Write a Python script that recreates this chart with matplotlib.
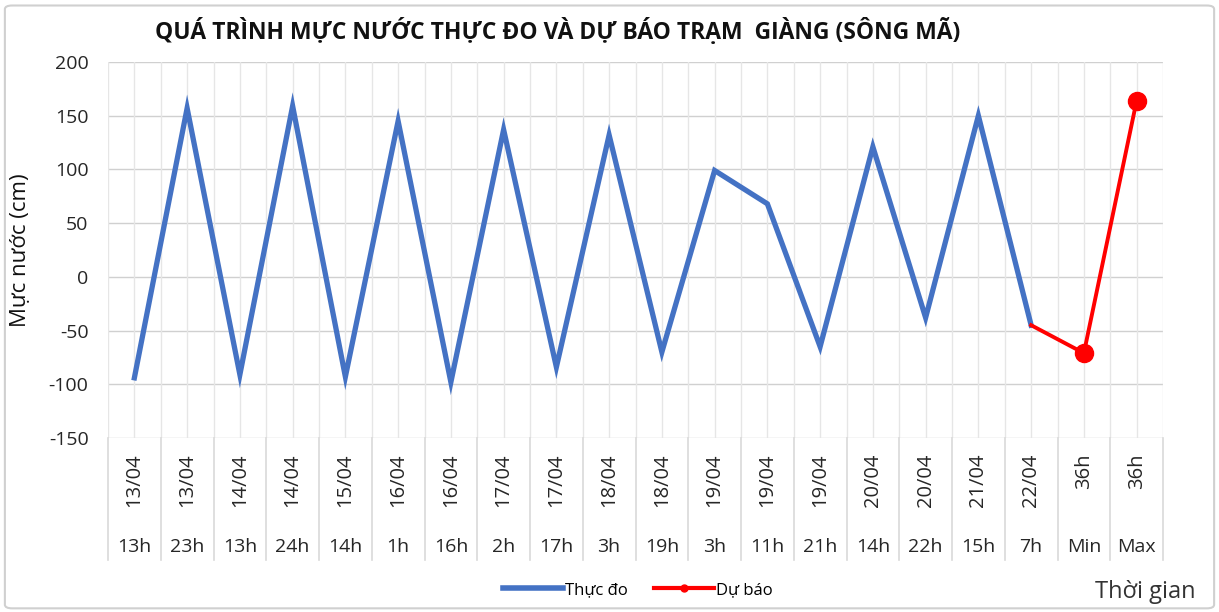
import matplotlib
matplotlib.use("Agg")
import matplotlib.pyplot as plt
from matplotlib.patches import FancyBboxPatch
from matplotlib.lines import Line2D

plt.rcParams['font.family'] = ['Open Sans', 'DejaVu Sans']
plt.rcParams['axes.unicode_minus'] = False

# Nhãn trục hoành (2 cấp)
ngay = ['13/04', '13/04', '14/04', '14/04', '15/04', '16/04', '16/04', '17/04',
        '17/04', '18/04', '18/04', '19/04', '19/04', '19/04', '20/04', '20/04',
        '21/04', '22/04', '36h', '36h']
gio = ['13h', '23h', '13h', '24h', '14h', '1h', '16h', '2h', '17h', '3h',
       '19h', '3h', '11h', '21h', '14h', '22h', '15h', '7h', 'Min', 'Max']

# Mực nước thực đo (cm)
thuc_do = [-94, 157, -91, 159, -93, 145, -98, 137, -84, 132, -70, 99, 68, -65,
           121, -38, 150, -45]
# Dự báo: từ điểm thực đo cuối -> Min -> Max
du_bao = [-45, -71, 164]

n = len(gio)
x = list(range(n))
x_tb = x[:len(thuc_do)]
x_db = x[len(thuc_do) - 1:len(thuc_do) - 1 + len(du_bao)]

fig = plt.figure(figsize=(12.19, 6.12), dpi=100)
ax = fig.add_axes([108 / 1219, 1 - 438 / 612, (1163 - 108) / 1219, 376 / 612])

# Khung ngoài
fig.patches.append(FancyBboxPatch((0.004, 0.006), 0.992, 0.985,
                                  boxstyle="round,pad=0,rounding_size=0.006",
                                  transform=fig.transFigure, fill=False,
                                  edgecolor='#d0d0d0', linewidth=1.5))

ax.set_xlim(-0.5, n - 0.5)
ax.set_ylim(-150, 200)
ax.set_yticks(range(-150, 201, 50))

# Lưới
for yv in range(-150, 201, 50):
    ax.axhline(yv, color='#d0d0d0', linewidth=1, zorder=0)
for i in range(n):
    ax.axvline(i, color='#e6e6e6', linewidth=1, zorder=0)
for i in range(n + 1):
    ax.axvline(i - 0.5, color='#e6e6e6', linewidth=1, zorder=0)

for s in ax.spines.values():
    s.set_visible(False)

ax.plot(x_tb, thuc_do, color='#4472C4', linewidth=3.8,
        solid_joinstyle='miter', zorder=3)
ax.plot(x_db, du_bao, color='#FF0000', linewidth=2.8, marker='o',
        markersize=13, markevery=[1, 2], zorder=4)

# Nhãn cấp 1 (ngày, xoay dọc)
ax.set_xticks(x)
ax.set_xticklabels(ngay, rotation=90, fontsize=14.5, color='#262626')
ax.tick_params(axis='x', length=0, pad=11)
ax.tick_params(axis='y', length=0, labelsize=14, labelcolor='#262626', pad=14)

# Nhãn cấp 2 (giờ)
tr = ax.get_xaxis_transform()
for i, g in enumerate(gio):
    ax.text(i, -109 / 376, g, transform=tr, ha='center', va='center',
            fontsize=14, color='#262626')
for i in range(n + 1):
    ax.plot([i - 0.5, i - 0.5], [0, -122 / 376], transform=tr, clip_on=False,
            color='#d9d9d9', linewidth=1.2)

ax.set_ylabel('Mực nước (cm)', fontsize=16, color='#111111')
ax.yaxis.set_label_coords(-77 / 1055, 0.5)

fig.text(558 / 1219, 1 - 31 / 612, 'QUÁ TRÌNH MỰC NƯỚC THỰC ĐO VÀ DỰ BÁO TRẠM  GIÀNG (SÔNG MÃ)',
         ha='center', va='center', fontsize=16.5, fontweight='bold', color='#111111')

fig.text(1145 / 1219, 1 - 592 / 612, 'Thời gian', ha='center', va='center',
         fontsize=17, color='#333333')

handles = [Line2D([], [], color='#4472C4', linewidth=4),
           Line2D([], [], color='#FF0000', linewidth=3, marker='o', markersize=5)]
fig.legend(handles, ['Thực đo', 'Dự báo'], loc='center',
           bbox_to_anchor=(638 / 1219, 1 - 590 / 612), ncol=2,
           frameon=False, fontsize=12, handlelength=3.6, columnspacing=1.6,
           handletextpad=0.1)

fig.savefig('out.png', dpi=100)
